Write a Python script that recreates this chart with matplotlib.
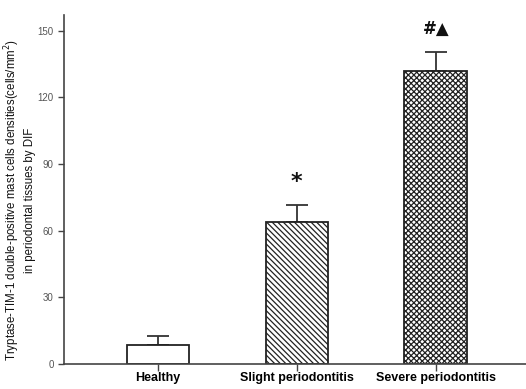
import numpy as np
import matplotlib
matplotlib.use("Agg")
import matplotlib.pyplot as plt

# values (cells/mm^2)
groups = ["Healthy", "Slight periodontitis", "Severe periodontitis"]
means = [8.6, 64.0, 132.0]
errs = [4.0, 7.5, 8.5]
marks = ["", "*", "#\u25B2"]
mark_sizes = [0, 16, 12]
hatches = ["", "\\\\\\\\\\\\", "xxxxxx"]
yticks = [0, 30, 60, 90, 120, 150]

plt.rcParams["font.family"] = ["Liberation Sans", "DejaVu Sans"]
plt.rcParams["hatch.linewidth"] = 0.9

fig = plt.figure(figsize=(5.26, 3.89), dpi=100)
ax = fig.add_axes([0.1217, 0.0643, 0.8783, 0.897])

x = np.arange(len(groups))
ax.bar(x, means, width=0.45, color="white", edgecolor="#222222",
       linewidth=1.3, hatch=hatches, zorder=2)
ax.errorbar(x, means, yerr=[np.zeros(3), errs], fmt="none", ecolor="#333333",
            elinewidth=1.3, capsize=8, capthick=1.3, zorder=1)

for xi, m, e, lab, fs in zip(x, means, errs, marks, mark_sizes):
    if lab:
        ax.text(xi, m + e + 6, lab, ha="center", va="bottom", fontsize=fs,
                fontweight="bold", color="#111111",
                family=["DejaVu Sans"])

ax.set_xlim(-0.676, 2.65)
ax.set_ylim(0, 157)
ax.set_yticks(yticks)
ax.set_xticks(x)
ax.set_xticklabels(groups, fontweight="bold", fontsize=9)
ax.tick_params(axis="y", labelsize=7, labelcolor="#555555", length=4,
               width=1.0, color="#444444")
ax.tick_params(axis="x", length=5, width=1.0, color="#444444", pad=1)
for s in ["top", "right"]:
    ax.spines[s].set_visible(False)
for s in ["left", "bottom"]:
    ax.spines[s].set_color("#444444")
    ax.spines[s].set_linewidth(1.2)

ax.set_ylabel("Tryptase-TIM-1 double-positive mast cells densities(cells/mm$^2$)\n"
              "in periodontal tissues by DIF", fontsize=8.3,
              color="#111111", linespacing=1.3)
ax.yaxis.set_label_coords(-0.06, 0.47)

fig.savefig("out.png", dpi=100)
